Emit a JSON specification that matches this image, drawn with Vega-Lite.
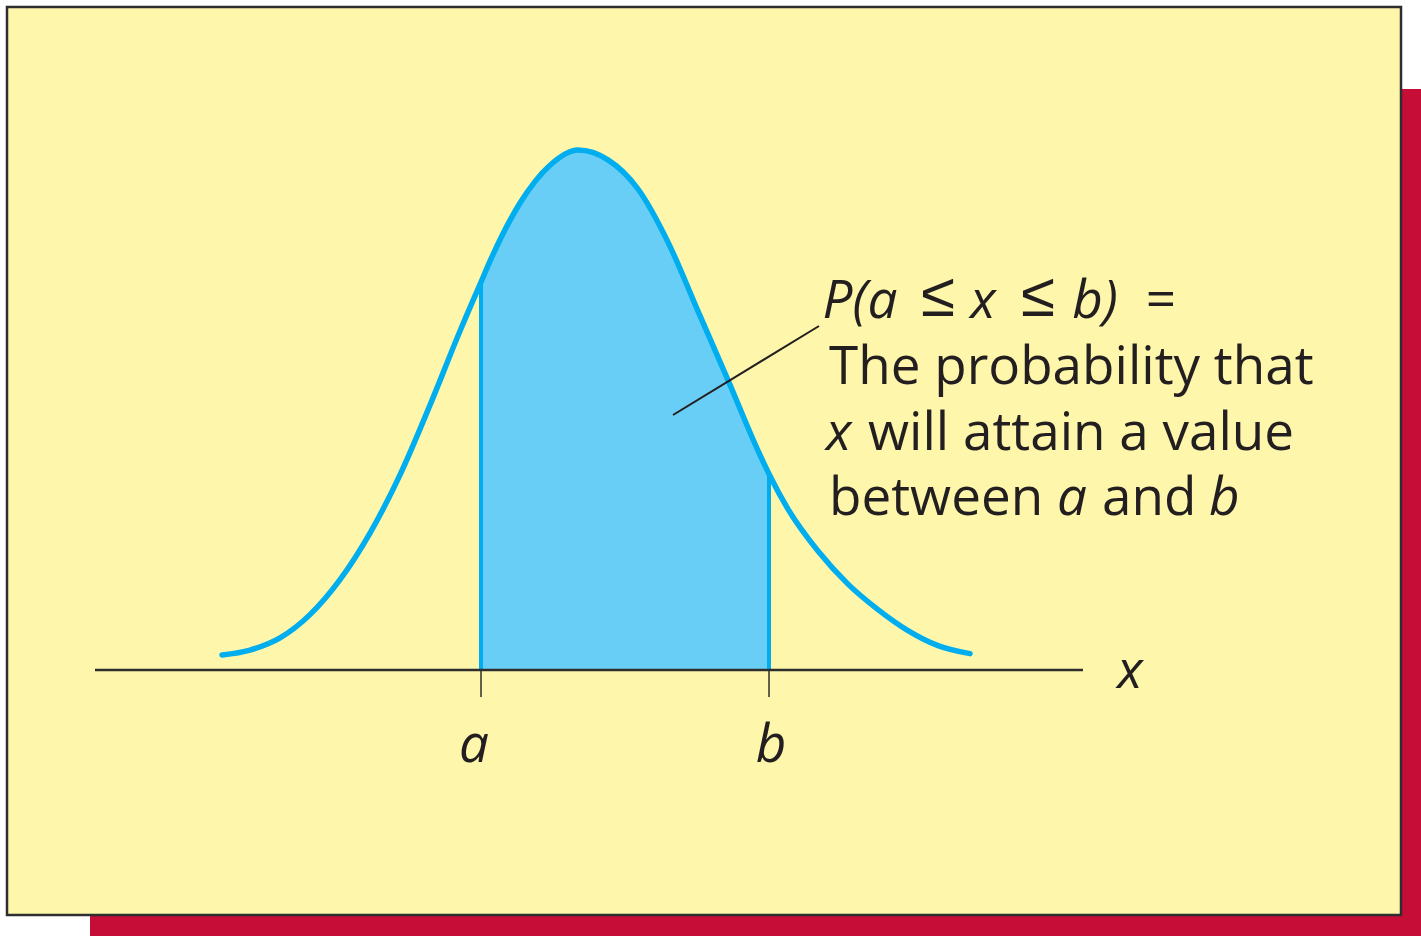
{
  "$schema": "https://vega.github.io/schema/vega-lite/v6.json",
  "width": 1421,
  "height": 936,
  "padding": 0,
  "autosize": {"type": "none"},
  "background": "#ffffff",
  "config": {"view": {"stroke": null}},
  "datasets": {
    "shadow": [{"x0": -4.88, "x1": 8.5, "y0": -0.55, "y1": 1.1173}],
    "panel": [{"x0": -5.71, "x1": 8.23, "y0": -0.4712, "y1": 1.275}],
    "density": [
      {"x": -3.56, "y": 0.0288, "base": 0},
      {"x": -3.28, "y": 0.0383, "base": 0},
      {"x": -2.98, "y": 0.0617, "base": 0},
      {"x": -2.68, "y": 0.1065, "base": 0},
      {"x": -2.38, "y": 0.1737, "base": 0},
      {"x": -2.08, "y": 0.2633, "base": 0},
      {"x": -1.78, "y": 0.3752, "base": 0},
      {"x": -1.48, "y": 0.5094, "base": 0},
      {"x": -1.18, "y": 0.6519, "base": 0},
      {"x": -0.97, "y": 0.746, "base": 0},
      {"x": -0.88, "y": 0.7862, "base": 0},
      {"x": -0.58, "y": 0.8981, "base": 0},
      {"x": -0.28, "y": 0.9708, "base": 0},
      {"x": 0.0, "y": 1.0, "base": 0},
      {"x": 0.3, "y": 0.981, "base": 0},
      {"x": 0.6, "y": 0.925, "base": 0},
      {"x": 0.9, "y": 0.8229, "base": 0},
      {"x": 1.2, "y": 0.6902, "base": 0},
      {"x": 1.5, "y": 0.5575, "base": 0},
      {"x": 1.8, "y": 0.4219, "base": 0},
      {"x": 1.91, "y": 0.377, "base": 0},
      {"x": 2.1, "y": 0.3094, "base": 0},
      {"x": 2.4, "y": 0.2287, "base": 0},
      {"x": 2.7, "y": 0.1652, "base": 0},
      {"x": 3.0, "y": 0.1162, "base": 0},
      {"x": 3.3, "y": 0.0758, "base": 0},
      {"x": 3.6, "y": 0.0469, "base": 0},
      {"x": 3.92, "y": 0.0315, "base": 0}
    ],
    "bounds": [
      {"label": "a", "x": -0.97, "y": 0.746, "base": 0, "tick": -0.052, "lx": -1.04, "ly": -0.1769},
      {"label": "b", "x": 1.91, "y": 0.377, "base": 0, "tick": -0.052, "lx": 1.93, "ly": -0.1769}
    ],
    "xaxis": [{"x0": -4.83, "x1": 5.05, "y": 0}],
    "leader": [{"x0": 0.95, "y0": 0.4904, "x1": 2.41, "y1": 0.6615}],
    "uprightLeft": [
      {"text": "The probability that", "x": 2.51, "y": 0.55},
      {"text": "will attain a value", "x": 2.9, "y": 0.4231},
      {"text": "between", "x": 2.51, "y": 0.2981},
      {"text": "and", "x": 5.24, "y": 0.2981}
    ],
    "italicLeft": [
      {"text": "x", "x": 2.48, "y": 0.4231},
      {"text": "a", "x": 4.79, "y": 0.2981},
      {"text": "b", "x": 6.31, "y": 0.2981}
    ],
    "relations": [
      {"text": "≤", "x": 3.6, "y": 0.6769},
      {"text": "≤", "x": 4.6, "y": 0.6769}
    ],
    "uprightCentered": [
      {"text": "=", "x": 5.83, "y": 0.6769}
    ],
    "italicCentered": [
      {"text": "P(a", "x": 2.82, "y": 0.6769},
      {"text": "x", "x": 4.05, "y": 0.6769},
      {"text": "b)", "x": 5.17, "y": 0.6769},
      {"text": "x", "x": 5.52, "y": -0.0346}
    ]
  },
  "layer": [
    {
      "data": {"name": "shadow"},
      "mark": {"type": "rect", "fill": "#C50D37"},
      "encoding": {
        "x": {"field": "x0", "type": "quantitative", "scale": {"domain": [-5.78, 8.43], "nice": false, "zero": false}, "axis": null},
        "x2": {"field": "x1"},
        "y": {"field": "y0", "type": "quantitative", "scale": {"domain": [-0.51154, 1.28846], "nice": false, "zero": false}, "axis": null},
        "y2": {"field": "y1"}
      }
    },
    {
      "data": {"name": "panel"},
      "mark": {"type": "rect", "fill": "#FEF7AB", "stroke": "#2E2E2E", "strokeWidth": 2.5},
      "encoding": {
        "x": {"field": "x0", "type": "quantitative", "axis": null},
        "x2": {"field": "x1"},
        "y": {"field": "y0", "type": "quantitative", "axis": null},
        "y2": {"field": "y1"}
      }
    },
    {
      "data": {"name": "density"},
      "transform": [{"filter": "datum.x >= -0.97 && datum.x <= 1.91"}],
      "mark": {"type": "area", "interpolate": "monotone", "fill": "#69CEF6"},
      "encoding": {
        "x": {"field": "x", "type": "quantitative", "axis": null},
        "y": {"field": "y", "type": "quantitative", "axis": null},
        "y2": {"field": "base"}
      }
    },
    {
      "data": {"name": "bounds"},
      "mark": {"type": "rule", "stroke": "#00ADEF", "strokeWidth": 4},
      "encoding": {
        "x": {"field": "x", "type": "quantitative", "axis": null},
        "y": {"field": "base", "type": "quantitative", "axis": null},
        "y2": {"field": "y"}
      }
    },
    {
      "data": {"name": "bounds"},
      "mark": {"type": "rule", "stroke": "#2E2E2E", "strokeWidth": 1.5},
      "encoding": {
        "x": {"field": "x", "type": "quantitative", "axis": null},
        "y": {"field": "base", "type": "quantitative", "axis": null},
        "y2": {"field": "tick"}
      }
    },
    {
      "data": {"name": "xaxis"},
      "mark": {"type": "rule", "stroke": "#2E2E2E", "strokeWidth": 2.5},
      "encoding": {
        "x": {"field": "x0", "type": "quantitative", "axis": null},
        "x2": {"field": "x1"},
        "y": {"field": "y", "type": "quantitative", "axis": null}
      }
    },
    {
      "data": {"name": "density"},
      "mark": {"type": "line", "interpolate": "monotone", "stroke": "#00ADEF", "strokeWidth": 5.5, "strokeCap": "round", "strokeJoin": "round"},
      "encoding": {
        "x": {"field": "x", "type": "quantitative", "axis": null},
        "y": {"field": "y", "type": "quantitative", "axis": null}
      }
    },
    {
      "data": {"name": "leader"},
      "mark": {"type": "rule", "stroke": "#231F20", "strokeWidth": 2},
      "encoding": {
        "x": {"field": "x0", "type": "quantitative", "axis": null},
        "x2": {"field": "x1"},
        "y": {"field": "y0", "type": "quantitative", "axis": null},
        "y2": {"field": "y1"}
      }
    },
    {
      "data": {"name": "uprightLeft"},
      "mark": {"type": "text", "font": "Open Sans", "fontSize": 53, "align": "left", "baseline": "alphabetic", "fill": "#231F20"},
      "encoding": {
        "x": {"field": "x", "type": "quantitative", "axis": null},
        "y": {"field": "y", "type": "quantitative", "axis": null},
        "text": {"field": "text"}
      }
    },
    {
      "data": {"name": "italicLeft"},
      "mark": {"type": "text", "font": "Open Sans", "fontStyle": "italic", "fontSize": 53, "align": "left", "baseline": "alphabetic", "fill": "#231F20"},
      "encoding": {
        "x": {"field": "x", "type": "quantitative", "axis": null},
        "y": {"field": "y", "type": "quantitative", "axis": null},
        "text": {"field": "text"}
      }
    },
    {
      "data": {"name": "relations"},
      "mark": {"type": "text", "font": "Liberation Sans", "fontSize": 62, "align": "center", "baseline": "alphabetic", "fill": "#231F20", "dy": -2},
      "encoding": {
        "x": {"field": "x", "type": "quantitative", "axis": null},
        "y": {"field": "y", "type": "quantitative", "axis": null},
        "text": {"field": "text"}
      }
    },
    {
      "data": {"name": "uprightCentered"},
      "mark": {"type": "text", "font": "Open Sans", "fontSize": 53, "align": "center", "baseline": "alphabetic", "fill": "#231F20"},
      "encoding": {
        "x": {"field": "x", "type": "quantitative", "axis": null},
        "y": {"field": "y", "type": "quantitative", "axis": null},
        "text": {"field": "text"}
      }
    },
    {
      "data": {"name": "italicCentered"},
      "mark": {"type": "text", "font": "Open Sans", "fontStyle": "italic", "fontSize": 53, "align": "center", "baseline": "alphabetic", "fill": "#231F20"},
      "encoding": {
        "x": {"field": "x", "type": "quantitative", "axis": null},
        "y": {"field": "y", "type": "quantitative", "axis": null},
        "text": {"field": "text"}
      }
    },
    {
      "data": {"name": "bounds"},
      "mark": {"type": "text", "font": "Open Sans", "fontStyle": "italic", "fontSize": 53, "align": "center", "baseline": "alphabetic", "fill": "#231F20"},
      "encoding": {
        "x": {"field": "lx", "type": "quantitative", "axis": null},
        "y": {"field": "ly", "type": "quantitative", "axis": null},
        "text": {"field": "label"}
      }
    }
  ]
}
